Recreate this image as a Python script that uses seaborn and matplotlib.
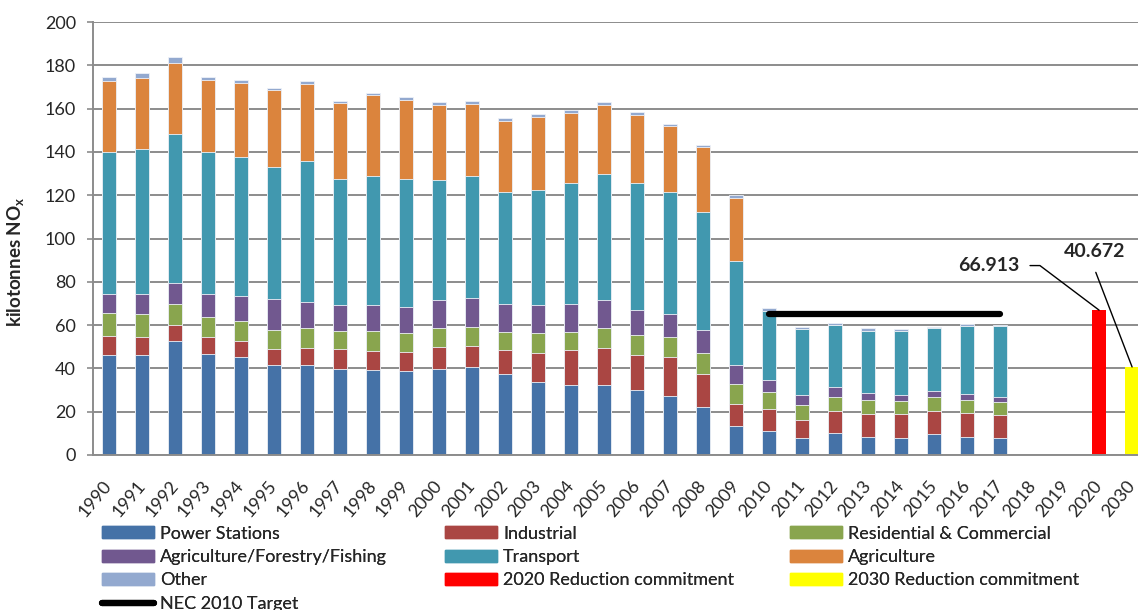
import numpy as np
import pandas as pd
import matplotlib.pyplot as plt
import seaborn as sns
from matplotlib.patches import Patch
from matplotlib.lines import Line2D

# categories on the x axis (2018/2019 left empty, then the two commitments)
years = [str(y) for y in range(1990, 2021)] + ["2030"]
data_years = [str(y) for y in range(1990, 2018)]

# sector emissions, kilotonnes NOx
power_stations = [46.0, 46.0, 52.8, 46.8, 45.1, 41.4, 41.6, 39.9, 39.1, 38.7,
                  39.6, 40.8, 37.4, 33.6, 32.2, 32.2, 29.9, 27.3, 22.0, 13.2,
                  11.2, 7.7, 10.0, 8.2, 7.7, 9.5, 8.2, 7.7]
industrial = [9.1, 8.7, 7.4, 7.9, 7.4, 7.7, 8.0, 8.9, 9.1, 8.9,
              10.4, 9.7, 11.0, 13.7, 16.2, 17.4, 16.4, 18.1, 15.6, 10.2,
              10.0, 8.6, 10.5, 10.7, 11.2, 11.0, 11.1, 10.6]
residential = [10.3, 10.4, 9.4, 9.2, 9.4, 8.6, 9.1, 8.6, 8.9, 8.6,
               8.8, 8.6, 8.6, 8.9, 8.6, 9.1, 9.1, 9.1, 9.7, 9.4,
               7.9, 6.8, 6.4, 6.5, 5.9, 6.1, 6.1, 6.2]
agri_forestry_fishing = [8.8, 9.4, 9.8, 10.3, 11.7, 14.5, 11.8, 12.0, 12.2, 12.3,
                         12.7, 13.3, 12.6, 12.9, 12.9, 12.8, 11.4, 10.5, 10.3, 8.6,
                         5.4, 4.8, 4.7, 3.4, 3.1, 2.8, 2.6, 2.1]
transport = [65.8, 66.7, 69.0, 65.6, 63.9, 61.0, 65.4, 58.2, 59.7, 58.8,
             55.7, 56.6, 51.7, 53.4, 55.6, 58.3, 58.7, 56.5, 54.6, 48.1,
             32.2, 30.5, 28.4, 28.6, 29.5, 29.4, 31.7, 33.1]
agriculture = [32.9, 33.1, 32.8, 33.3, 34.3, 35.5, 35.6, 34.8, 37.1, 36.7,
               34.6, 33.0, 32.8, 33.8, 32.6, 32.0, 31.4, 30.3, 29.9, 29.2,
               0, 0, 0, 0, 0, 0, 0, 0]
other = [1.5, 2.1, 2.6, 1.7, 1.3, 0.8, 1.1, 1.1, 1.2, 1.2,
         1.2, 1.5, 1.4, 1.2, 1.4, 1.2, 1.4, 1.2, 1.1, 1.2,
         1.2, 0.9, 1.1, 1.1, 0.8, 0.5, 0.7, 0.3]

commit_2020 = 66.913
commit_2030 = 40.672
nec_years = ["2010", "2011", "2012", "2013", "2014", "2015", "2016", "2017"]
nec_target = [65, 65, 65, 65, 65, 65, 65, 65]

sectors = ["Power Stations", "Industrial", "Residential & Commercial",
           "Agriculture/Forestry/Fishing", "Transport", "Agriculture", "Other"]
colours = ["#4572A7", "#AA4643", "#89A54E", "#71588F", "#4198AF", "#DB843D", "#93A9CF"]

df = pd.DataFrame(dict(zip(sectors, [power_stations, industrial, residential,
                                     agri_forestry_fishing, transport, agriculture, other])),
                  index=data_years)
cum = df.cumsum(axis=1)

sns.set_style("white")
plt.rcParams["font.family"] = ["Lato", "DejaVu Sans"]
plt.rcParams["mathtext.fontset"] = "custom"
plt.rcParams["mathtext.rm"] = "Lato"
plt.rcParams["mathtext.bf"] = "Lato:bold"

fig = plt.figure(figsize=(11.38, 6.10), dpi=100)
ax = fig.add_axes([0.0813, 0.2541, 0.928, 0.7098])

# stacked bars: draw cumulative totals from the top layer down
for name, col in reversed(list(zip(sectors, colours))):
    sns.barplot(x=data_years, y=cum[name].values, order=years, color=col,
                saturation=1, width=0.43, edgecolor="#eef2f8", linewidth=0.6, ax=ax)

sns.barplot(x=["2020"], y=[commit_2020], order=years, color="#FF0000",
            saturation=1, width=0.43, linewidth=0, ax=ax)
sns.barplot(x=["2030"], y=[commit_2030], order=years, color="#FFFF00",
            saturation=1, width=0.43, linewidth=0, ax=ax)

nec_x = [years.index(y) for y in nec_years]
ax.plot(nec_x, nec_target, color="black", lw=4.5, solid_capstyle="round", zorder=5)

# value call-outs
ax.annotate(f"{commit_2020:.3f}", xy=(years.index("2020"), commit_2020),
            xytext=(26.67, 87.5), ha="center", va="center",
            fontsize=14, fontweight="bold",
            arrowprops=dict(arrowstyle="-", color="black", lw=1,
                            connectionstyle="angle,angleA=0,angleB=143,rad=0",
                            shrinkA=5, shrinkB=0))
ax.annotate(f"{commit_2030:.3f}", xy=(years.index("2030"), commit_2030),
            xytext=(29.85, 94.0), ha="center", va="center",
            fontsize=14, fontweight="bold",
            arrowprops=dict(arrowstyle="-", color="black", lw=1,
                            relpos=(0.45, 0), shrinkA=7, shrinkB=0))

ax.set_ylim(0, 200)
ax.set_xlim(-0.5, len(years) - 0.5)
ax.set_yticks(np.arange(0, 201, 20))
ax.yaxis.grid(True, color="#8c8c8c", lw=1.4)
ax.set_axisbelow(True)

ax.set_xticks(range(len(years)))
ax.set_xticklabels(years, rotation=50, ha="right", va="center", rotation_mode="anchor")
ax.set_xticks(np.arange(-0.5, len(years), 1), minor=True)
ax.tick_params(axis="x", which="major", length=0, pad=20, labelsize=13)
ax.tick_params(axis="x", which="minor", length=5, width=1.2, color="#8c8c8c", direction="out")
ax.tick_params(axis="y", length=4, width=1.2, color="#8c8c8c", direction="out",
               pad=8, labelsize=13, left=True)

for side in ["top", "right"]:
    ax.spines[side].set_visible(False)
for side in ["left", "bottom"]:
    ax.spines[side].set_color("#8c8c8c")
    ax.spines[side].set_linewidth(1.4)

ax.set_xlabel("")
ax.set_ylabel(r"kilotonnes NO$_\mathbf{x}$", fontsize=13.5, fontweight="bold")
ax.yaxis.set_label_coords(-0.062, 0.446)

# legend laid out in three columns like the original
col1 = [Patch(color=colours[0], label=sectors[0]), Patch(color=colours[3], label=sectors[3]),
        Patch(color=colours[6], label=sectors[6]),
        Line2D([], [], color="black", lw=4.5, solid_capstyle="round", label="NEC 2010 Target")]
col2 = [Patch(color=colours[1], label=sectors[1]), Patch(color=colours[4], label=sectors[4]),
        Patch(color="#FF0000", label="2020 Reduction commitment")]
col3 = [Patch(color=colours[2], label=sectors[2]), Patch(color=colours[5], label=sectors[5]),
        Patch(color="#FFFF00", label="2030 Reduction commitment")]

leg_kw = dict(loc="upper left", frameon=False, fontsize=13, borderpad=0, borderaxespad=0,
              handlelength=2.88, handleheight=0.65, handletextpad=0.33, labelspacing=0.41)
for handles, x0 in [(col1, 0.0894), (col2, 0.391), (col3, 0.694)]:
    leg = fig.legend(handles=handles, bbox_to_anchor=(x0, 0.1385), **leg_kw)
    fig.add_artist(leg)

fig.savefig("out.png", dpi=100)
